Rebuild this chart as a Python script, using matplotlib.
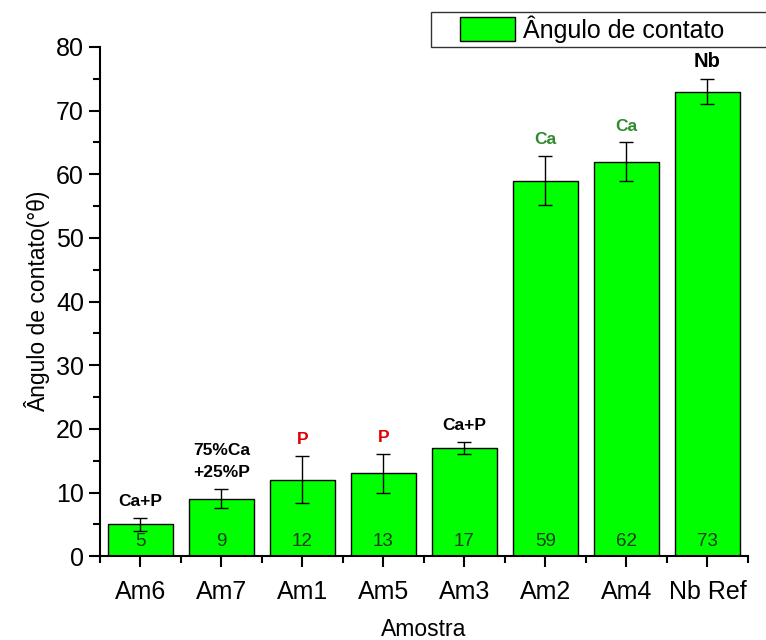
import matplotlib.pyplot as plt
import numpy as np
from matplotlib.patches import Rectangle
from matplotlib.container import BarContainer
from matplotlib.legend_handler import HandlerPatch, update_from_first_child
from matplotlib.ticker import MultipleLocator, FixedLocator

plt.rcParams['font.family'] = ['Liberation Sans', 'DejaVu Sans']

amostras = ["Am6", "Am7", "Am1", "Am5", "Am3", "Am2", "Am4", "Nb Ref"]
angulo = [5, 9, 12, 13, 17, 59, 62, 73]
erro = [1.0, 1.5, 3.7, 3.0, 1.0, 3.9, 3.0, 1.9]
rotulos = ["Ca+P", "75%Ca\n+25%P", "P", "P", "Ca+P", "Ca", "Ca", "Nb"]
cores_rotulo = ["black", "black", "#e00000", "#e00000", "black",
                "#2e8b2e", "#2e8b2e", "black"]

fig = plt.figure(figsize=(7.66, 6.4), dpi=100)
ax = fig.add_axes([0.1305, 0.131, 0.846, 0.7956])

x = np.arange(len(amostras))
ax.bar(x, angulo, width=0.8, color='#00ff00', edgecolor='black',
       linewidth=1.0, label='Ângulo de contato', zorder=2)
ax.errorbar(x, angulo, yerr=erro, fmt='none', ecolor='black',
            elinewidth=1.0, capsize=5, capthick=1.0, zorder=3)

# values inside the bars, near the base
for xi, v in zip(x, angulo):
    ax.text(xi, 1.0, f"{v}", ha='center', va='bottom', fontsize=13.5,
            color='#1a3a1a', zorder=4)

# composition labels above the error bars
for xi, v, e, txt, c in zip(x, angulo, erro, rotulos, cores_rotulo):
    fs = 14.5 if txt == "Nb" else 12.5
    ax.text(xi, v + e + 1.4, txt, ha='center', va='bottom', fontsize=fs,
            fontweight='bold', color=c, linespacing=1.6, zorder=4)

ax.set_xlim(-0.5, len(amostras) - 0.5)
ax.set_ylim(0, 80)
ax.set_xticks(x)
ax.set_xticklabels(amostras)
ax.xaxis.set_minor_locator(FixedLocator(np.arange(-0.5, len(amostras), 1.0)))
ax.yaxis.set_major_locator(MultipleLocator(10))
ax.yaxis.set_minor_locator(MultipleLocator(5))
ax.tick_params(axis='both', which='major', direction='out', length=8,
               width=1.5, labelsize=18, colors='black')
ax.tick_params(axis='both', which='minor', direction='out', length=5,
               width=1.5)
ax.tick_params(axis='x', which='major', pad=9)

for s in ['top', 'right']:
    ax.spines[s].set_visible(False)
for s in ['left', 'bottom']:
    ax.spines[s].set_linewidth(1.5)

ax.set_xlabel("Amostra", fontsize=16.5, labelpad=10)
ax.set_ylabel("Ângulo de contato(°θ)", fontsize=16.5, labelpad=4)


# legend swatch sits in the right part of the handle area
def swatch(legend, orig_handle, xdescent, ydescent, width, height, fontsize):
    off = width * 0.31
    return Rectangle((-xdescent + off, -ydescent), width - off, height)


leg = fig.legend(loc='upper left', bbox_to_anchor=(0.563, 0.982, 0.45, 0.0),
                 mode='expand', fontsize=18, frameon=True, fancybox=False,
                 handlelength=3.2, handleheight=1.1, borderpad=0.15,
                 handletextpad=0.3, borderaxespad=0,
                 handler_map={BarContainer: HandlerPatch(
                     patch_func=swatch, update_func=update_from_first_child)})
leg.get_frame().set_edgecolor('black')
leg.get_frame().set_linewidth(1.0)

fig.savefig("out.png", dpi=100)
